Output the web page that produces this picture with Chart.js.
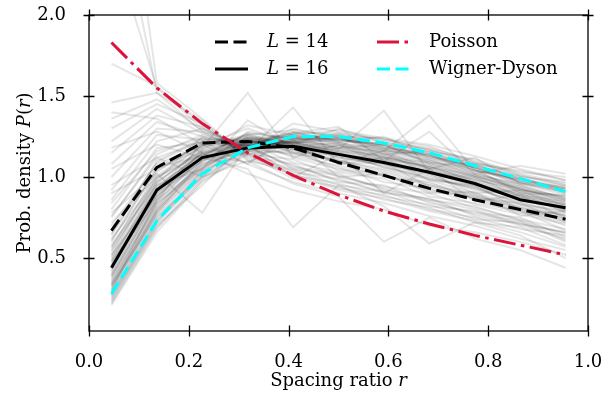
<!DOCTYPE html>
<html>
<head>
<meta charset="utf-8">
<script src="https://cdn.jsdelivr.net/npm/chart.js@4.4.0/dist/chart.umd.min.js"></script>
<style>
body { margin: 0; background: #fff; }
#wrap { width: 610px; height: 394px; position: relative; }
</style>
</head>
<body>
<div id="wrap"><canvas id="myChart"></canvas></div>
<script>
// bin centres of the spacing ratio histogram
const ratioBins = [0.045, 0.136, 0.227, 0.318, 0.409, 0.5, 0.591, 0.682, 0.773, 0.864, 0.955];

const densityL14 = [0.67, 1.06, 1.21, 1.22, 1.18, 1.09, 1.01, 0.93, 0.86, 0.80, 0.74];
const densityL16 = [0.44, 0.92, 1.12, 1.18, 1.19, 1.14, 1.09, 1.03, 0.96, 0.86, 0.81];
const densityPoisson = [1.83, 1.55, 1.33, 1.15, 1.01, 0.89, 0.79, 0.71, 0.64, 0.58, 0.52];
const densityWD = [0.28, 0.73, 1.02, 1.18, 1.25, 1.25, 1.21, 1.15, 1.07, 0.99, 0.91];

// individual samples (grey background curves)
const sampleCurves = [
    [0.22, 0.68, 0.98, 1.15, 1.24, 1.26, 1.22, 1.15, 1.06, 0.97, 0.90],
    [0.27, 0.74, 1.02, 1.20, 1.28, 1.22, 1.25, 1.12, 1.08, 0.99, 0.92],
    [0.31, 0.80, 1.08, 1.17, 1.30, 1.24, 1.18, 1.14, 1.02, 0.95, 0.86],
    [0.25, 0.70, 0.95, 1.22, 1.20, 1.30, 1.21, 1.18, 1.10, 1.01, 0.95],
    [0.35, 0.84, 1.05, 1.24, 1.26, 1.20, 1.16, 1.10, 1.04, 0.92, 0.88],
    [0.29, 0.78, 1.10, 1.19, 1.22, 1.27, 1.19, 1.13, 1.07, 1.00, 0.97],
    [0.38, 0.88, 1.12, 1.21, 1.25, 1.18, 1.20, 1.08, 1.00, 0.94, 0.84],
    [0.33, 0.76, 1.00, 1.26, 1.29, 1.25, 1.14, 1.16, 1.05, 0.90, 0.89],
    [0.41, 0.90, 1.15, 1.18, 1.24, 1.22, 1.12, 1.06, 0.98, 0.93, 0.82],
    [0.24, 0.72, 1.04, 1.16, 1.33, 1.28, 1.23, 1.19, 1.09, 1.03, 1.00],
    [0.45, 0.94, 1.14, 1.26, 1.20, 1.16, 1.13, 1.05, 0.96, 0.88, 0.80],
    [0.37, 0.82, 1.09, 1.22, 1.27, 1.21, 1.17, 1.11, 1.01, 0.96, 0.91],
    [0.48, 0.96, 1.18, 1.23, 1.19, 1.21, 1.10, 1.03, 0.95, 0.90, 0.78],
    [0.30, 0.86, 1.06, 1.28, 1.23, 1.24, 1.20, 1.09, 1.06, 0.95, 0.87],
    [0.52, 1.00, 1.16, 1.20, 1.22, 1.14, 1.11, 1.07, 0.97, 0.86, 0.81],
    [0.43, 0.92, 1.20, 1.25, 1.18, 1.19, 1.15, 1.02, 0.99, 0.91, 0.84],
    [0.56, 1.03, 1.22, 1.19, 1.21, 1.12, 1.08, 1.01, 0.92, 0.85, 0.76],
    [0.60, 1.06, 1.13, 1.27, 1.17, 1.15, 1.06, 0.99, 0.94, 0.83, 0.79],
    [0.64, 1.10, 1.24, 1.22, 1.16, 1.10, 1.04, 0.96, 0.89, 0.82, 0.74],
    [0.70, 1.08, 1.19, 1.30, 1.20, 1.08, 1.09, 0.94, 0.87, 0.84, 0.72],
    [0.75, 1.14, 1.26, 1.18, 1.14, 1.11, 1.00, 0.97, 0.86, 0.78, 0.75],
    [0.80, 1.18, 1.21, 1.24, 1.12, 1.05, 1.02, 0.91, 0.88, 0.80, 0.70],
    [0.86, 1.22, 1.30, 1.16, 1.15, 1.06, 0.97, 0.93, 0.83, 0.77, 0.71],
    [0.92, 1.26, 1.23, 1.21, 1.09, 1.03, 0.99, 0.88, 0.84, 0.79, 0.67],
    [1.00, 1.30, 1.28, 1.14, 1.11, 1.00, 0.94, 0.90, 0.81, 0.74, 0.68],
    [1.08, 1.34, 1.25, 1.19, 1.06, 1.02, 0.92, 0.86, 0.82, 0.73, 0.65],
    [1.15, 1.38, 1.31, 1.13, 1.08, 0.97, 0.95, 0.84, 0.78, 0.75, 0.63],
    [1.22, 1.42, 1.27, 1.17, 1.03, 0.99, 0.90, 0.87, 0.76, 0.71, 0.66],
    [1.30, 1.45, 1.33, 1.12, 1.05, 0.95, 0.91, 0.82, 0.79, 0.70, 0.62],
    [1.36, 1.48, 1.29, 1.15, 1.01, 0.96, 0.88, 0.83, 0.74, 0.72, 0.60],
    [1.46, 1.52, 1.35, 1.10, 1.04, 0.93, 0.89, 0.80, 0.75, 0.68, 0.64],
    [1.70, 1.56, 1.32, 1.14, 0.99, 0.94, 0.86, 0.81, 0.72, 0.69, 0.58],
    [2.45, 1.55, 1.30, 1.18, 1.07, 0.98, 0.91, 0.85, 0.77, 0.73, 0.61],
    [3.60, 1.58, 1.36, 1.11, 1.02, 0.92, 0.87, 0.79, 0.73, 0.66, 0.57],
    [2.90, 1.52, 1.28, 1.20, 1.05, 1.01, 0.93, 0.86, 0.80, 0.71, 0.66],
    [0.90, 1.05, 1.18, 1.52, 1.12, 1.20, 1.08, 1.02, 0.90, 0.92, 0.80],
    [0.62, 0.98, 1.25, 1.16, 1.43, 1.08, 1.12, 0.98, 0.95, 0.80, 0.77],
    [0.52, 0.88, 1.10, 1.24, 1.19, 1.17, 1.41, 1.03, 1.00, 0.88, 0.83],
    [0.78, 1.02, 0.78, 1.20, 1.00, 1.14, 0.90, 1.05, 0.85, 0.89, 0.74],
    [1.05, 1.20, 1.12, 1.05, 0.69, 0.95, 0.82, 0.59, 0.72, 0.64, 0.50],
    [0.95, 1.12, 1.00, 1.10, 0.96, 0.88, 0.60, 0.75, 0.62, 0.55, 0.44],
    [0.48, 0.85, 1.22, 1.08, 1.27, 1.31, 1.10, 1.28, 1.02, 1.07, 1.02],
    [0.58, 0.95, 1.05, 1.35, 1.18, 1.09, 1.16, 1.05, 1.12, 0.96, 0.93],
    [1.18, 1.28, 1.15, 1.02, 0.92, 0.85, 0.80, 0.70, 0.66, 0.60, 0.52],
    [0.72, 1.00, 1.14, 1.09, 1.23, 1.00, 1.02, 0.90, 0.91, 0.76, 0.79],
    [0.40, 0.87, 1.17, 1.32, 1.26, 1.29, 1.24, 1.20, 1.13, 1.05, 0.98],
    [1.40, 1.36, 1.20, 1.08, 0.97, 0.90, 0.84, 0.76, 0.70, 0.62, 0.55],
    [0.65, 1.04, 1.20, 1.26, 1.15, 1.14, 1.06, 1.00, 0.93, 0.87, 0.80],
    [0.84, 1.16, 1.24, 1.14, 1.17, 1.04, 1.01, 0.95, 0.89, 0.81, 0.76],
    [0.55, 0.97, 1.16, 1.23, 1.21, 1.16, 1.12, 1.06, 0.98, 0.89, 0.85],
    [0.34, 0.81, 1.11, 1.21, 1.25, 1.23, 1.18, 1.12, 1.04, 0.98, 0.92],
    [0.46, 0.91, 1.13, 1.24, 1.22, 1.19, 1.14, 1.08, 1.00, 0.93, 0.86],
    [0.50, 0.93, 1.15, 1.20, 1.24, 1.18, 1.16, 1.38, 1.04, 0.99, 0.94],
    [0.26, 0.71, 1.01, 1.17, 1.23, 1.24, 1.19, 1.13, 1.05, 0.96, 0.89],
    [0.32, 0.79, 1.06, 1.19, 1.24, 1.21, 1.17, 1.10, 1.03, 0.94, 0.87],
    [0.36, 0.83, 1.08, 1.20, 1.22, 1.20, 1.15, 1.09, 1.02, 0.93, 0.85],
    [0.28, 0.75, 1.03, 1.21, 1.26, 1.23, 1.20, 1.14, 1.06, 0.98, 0.93],
    [0.39, 0.86, 1.11, 1.18, 1.21, 1.17, 1.14, 1.07, 0.99, 0.91, 0.83],
    [0.42, 0.89, 1.12, 1.22, 1.20, 1.16, 1.11, 1.05, 0.97, 0.90, 0.82],
    [0.47, 0.93, 1.15, 1.21, 1.19, 1.15, 1.10, 1.04, 0.96, 0.88, 0.81],
    [0.51, 0.97, 1.17, 1.22, 1.18, 1.13, 1.08, 1.02, 0.94, 0.87, 0.79],
    [0.23, 0.69, 0.99, 1.18, 1.27, 1.27, 1.23, 1.17, 1.09, 1.01, 0.95],
    [0.30, 0.77, 1.04, 1.23, 1.25, 1.26, 1.18, 1.15, 1.08, 0.97, 0.94],
    [0.34, 0.80, 1.07, 1.19, 1.28, 1.22, 1.21, 1.11, 1.07, 1.00, 0.90],
    [0.44, 0.90, 1.10, 1.25, 1.21, 1.18, 1.12, 1.09, 1.01, 0.92, 0.88],
    [0.57, 1.01, 1.19, 1.24, 1.17, 1.12, 1.07, 0.99, 0.93, 0.84, 0.78],
    [0.61, 1.05, 1.21, 1.20, 1.18, 1.10, 1.05, 0.98, 0.90, 0.83, 0.76],
    [0.67, 1.09, 1.23, 1.23, 1.15, 1.09, 1.03, 0.95, 0.88, 0.81, 0.73],
    [0.39, 0.84, 1.13, 1.27, 1.24, 1.25, 1.17, 1.13, 1.06, 0.97, 0.91],
    [0.27, 0.73, 1.00, 1.16, 1.22, 1.25, 1.24, 1.16, 1.11, 1.02, 0.96],
    [0.49, 0.95, 1.14, 1.18, 1.23, 1.17, 1.13, 1.06, 1.01, 0.92, 0.86],
    [0.33, 0.78, 1.05, 1.22, 1.21, 1.24, 1.16, 1.14, 1.04, 0.99, 0.93],
    [0.54, 0.99, 1.20, 1.19, 1.22, 1.15, 1.09, 1.03, 0.95, 0.89, 0.83],
    [0.76, 1.12, 1.22, 1.20, 1.13, 1.07, 1.01, 0.92, 0.87, 0.79, 0.72],
    [0.21, 0.66, 0.97, 1.14, 1.21, 1.23, 1.20, 1.17, 1.08, 1.04, 0.98]
];

const xTicks = [0, 0.2, 0.4, 0.6, 0.8, 1.0];
const yTicks = [0.5, 1.0, 1.5, 2.0];

const FONT = '18px "DejaVu Serif"';
const FONT_IT = 'italic 18px "DejaVu Serif"';

function toPoints(values) {
    return ratioBins.map((r, i) => ({ x: r, y: values[i] }));
}

// main curves, first one is drawn on top
const mainSets = [
    { label: [['Wigner-Dyson', false]], data: toPoints(densityWD), borderColor: '#00ffff', borderDash: [13, 5.5] },
    { label: [['Poisson', false]], data: toPoints(densityPoisson), borderColor: '#dc143c', borderDash: [22, 5.5, 3.5, 5.5] },
    { label: [['L', true], [' = 16', false]], data: toPoints(densityL16), borderColor: '#000000', borderDash: [] },
    { label: [['L', true], [' = 14', false]], data: toPoints(densityL14), borderColor: '#000000', borderDash: [13, 5.5] }
];

const datasets = mainSets.map(s => ({
    data: s.data,
    borderColor: s.borderColor,
    borderDash: s.borderDash,
    borderWidth: 3,
    borderCapStyle: 'butt',
    pointRadius: 0,
    fill: false,
    clip: 0
}));
sampleCurves.forEach(c => datasets.push({
    data: toPoints(c),
    borderColor: 'rgba(0, 0, 0, 0.1)',
    borderWidth: 2,
    pointRadius: 0,
    fill: false,
    clip: 0
}));

// legend layout: line start x and row y
const legendSlots = [
    { set: 3, x: 215, y: 42 },
    { set: 2, x: 215, y: 69 },
    { set: 1, x: 377, y: 42 },
    { set: 0, x: 377, y: 69 }
];

function drawParts(ctx, parts, x, y, center) {
    const widths = parts.map(p => { ctx.font = p[1] ? FONT_IT : FONT; return ctx.measureText(p[0]).width; });
    const total = widths.reduce((a, b) => a + b, 0);
    let cx = center ? x - total / 2 : x;
    ctx.textAlign = 'left';
    parts.forEach((p, i) => {
        ctx.font = p[1] ? FONT_IT : FONT;
        ctx.fillText(p[0], cx, y);
        cx += widths[i];
    });
}

const framePlugin = {
    id: 'framePlugin',
    afterDraw(chart) {
        const { ctx, chartArea: a, scales } = chart;
        ctx.save();
        ctx.strokeStyle = '#000';
        ctx.lineWidth = 1.3;
        ctx.setLineDash([]);
        ctx.strokeRect(a.left, a.top, a.right - a.left, a.bottom - a.top);
        ctx.beginPath();
        xTicks.forEach(v => {
            const px = Math.round(scales.x.getPixelForValue(v)) + 0.5;
            ctx.moveTo(px, a.bottom - 5.5); ctx.lineTo(px, a.bottom + 5.5);
            ctx.moveTo(px, a.top - 5.5); ctx.lineTo(px, a.top + 5.5);
        });
        yTicks.forEach(v => {
            const py = Math.round(scales.y.getPixelForValue(v)) + 0.5;
            ctx.moveTo(a.left - 5.5, py); ctx.lineTo(a.left + 5.5, py);
            ctx.moveTo(a.right - 5.5, py); ctx.lineTo(a.right + 5.5, py);
        });
        ctx.stroke();

        // legend
        ctx.fillStyle = '#000';
        ctx.textBaseline = 'middle';
        legendSlots.forEach(slot => {
            const s = mainSets[slot.set];
            ctx.strokeStyle = s.borderColor;
            ctx.lineWidth = 3;
            ctx.lineCap = 'butt';
            ctx.setLineDash(s.borderDash);
            ctx.beginPath();
            ctx.moveTo(slot.x, slot.y);
            ctx.lineTo(slot.x + 33, slot.y);
            ctx.stroke();
            ctx.setLineDash([]);
            drawParts(ctx, s.label, slot.x + 52, slot.y, false);
        });

        // axis titles
        const midX = (a.left + a.right) / 2;
        drawParts(ctx, [['Spacing ratio ', false], ['r', true]], midX, 381, true);
        ctx.translate(25, (a.top + a.bottom) / 2);
        ctx.rotate(-Math.PI / 2);
        drawParts(ctx, [['Prob. density ', false], ['P', true], ['(', false], ['r', true], [')', false]], 0, 0, true);
        ctx.restore();
    }
};

const ctx = document.getElementById('myChart').getContext('2d');
new Chart(ctx, {
    type: 'line',
    data: { datasets: datasets },
    options: {
        responsive: true,
        maintainAspectRatio: false,
        animation: false,
        layout: { padding: { top: 15, right: 22, left: 0, bottom: 0 } },
        plugins: { legend: { display: false }, tooltip: { enabled: false } },
        scales: {
            x: {
                type: 'linear',
                min: 0,
                max: 1,
                afterFit: s => { s.height = 63; s.paddingLeft = 0; s.paddingRight = 0; },
                afterBuildTicks: s => { s.ticks = xTicks.map(v => ({ value: v })); },
                grid: { display: false },
                border: { display: false },
                ticks: {
                    color: '#000',
                    font: { family: 'DejaVu Serif', size: 18 },
                    padding: 13,
                    maxRotation: 0,
                    callback: v => v.toFixed(1)
                }
            },
            y: {
                type: 'linear',
                min: 0.05,
                max: 2.0,
                afterFit: s => { s.width = 89; s.paddingTop = 0; s.paddingBottom = 0; },
                afterBuildTicks: s => { s.ticks = yTicks.map(v => ({ value: v })); },
                grid: { display: false },
                border: { display: false },
                ticks: {
                    color: '#000',
                    font: { family: 'DejaVu Serif', size: 18 },
                    padding: 15,
                    callback: v => v.toFixed(1)
                }
            }
        }
    },
    plugins: [framePlugin]
});
</script>
</body>
</html>
